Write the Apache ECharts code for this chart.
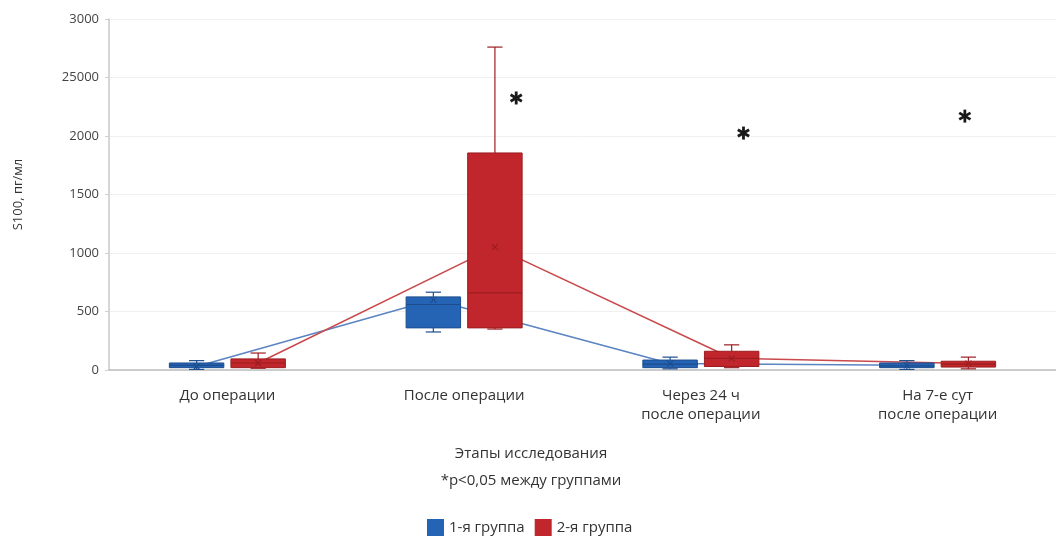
<!DOCTYPE html>
<html>
<head>
<meta charset="utf-8">
<script src="https://cdn.jsdelivr.net/npm/echarts@6/dist/echarts.min.js"></script>
<style>
  html, body { margin: 0; padding: 0; background: #fff; }
  #chart { width: 1056px; height: 538px; }
</style>
</head>
<body>
<div id="chart"></div>
<script>
// этапы исследования
const categories = ['До операции', 'После операции', 'Через 24 ч\nпосле операции', 'На 7-е сут\nпосле операции']
const yTickLabels = ['0', '500', '1000', '1500', '2000', '25000', '3000']

// [min, q1, median, q3, max] по этапам
const group1Box = [
  [5, 20, 40, 60, 80],
  [325, 360, 560, 625, 665],
  [10, 20, 50, 85, 110],
  [5, 20, 35, 60, 80]
]
const group2Box = [
  [15, 20, 60, 95, 145],
  [350, 360, 660, 1855, 2760],
  [20, 30, 100, 160, 215],
  [10, 25, 50, 75, 110]
]
// средние
const group1Mean = [30, 600, 55, 40]
const group2Mean = [60, 1050, 100, 55]

// звёздочки p<0,05: [позиция по оси этапов, значение]
const starPoints = [[1.72, 2325], [2.68, 2025], [3.615, 2170]]

const BLUE = '#2563b4', BLUE_DARK = '#1c4d8e', BLUE_LINE = '#5b84c2'
const RED = '#c0262b', RED_DARK = '#9c1d21', RED_LINE = '#c9494c'
const OFFSET = 0.13   // сдвиг коробки от центра категории (доля полосы)
const BOXW = 0.23     // ширина коробки (доля полосы)

const chart = echarts.init(document.getElementById('chart'))

const boxRenderer = (sign, fill, stroke) => (params, api) => {
  const idx = api.value(0)
  const band = api.size([1, 0])[0]
  const cx = api.coord([idx, 0])[0] + sign * band * OFFSET
  const w = band * BOXW
  const y = (k) => api.coord([idx, api.value(k)])[1]
  const yMin = y(1), yQ1 = y(2), yMed = y(3), yQ3 = y(4), yMax = y(5), yMean = y(6)
  const cap = w * 0.28
  const ls = { stroke: stroke, lineWidth: 1.2 }
  const m = 3
  return {
    type: 'group',
    children: [
      { type: 'line', shape: { x1: cx, y1: yMax, x2: cx, y2: yQ3 }, style: ls },
      { type: 'line', shape: { x1: cx, y1: yQ1, x2: cx, y2: yMin }, style: ls },
      { type: 'line', shape: { x1: cx - cap / 2, y1: yMax, x2: cx + cap / 2, y2: yMax }, style: ls },
      { type: 'line', shape: { x1: cx - cap / 2, y1: yMin, x2: cx + cap / 2, y2: yMin }, style: ls },
      { type: 'rect', shape: { x: cx - w / 2, y: yQ3, width: w, height: Math.max(yQ1 - yQ3, 3) },
        style: { fill: fill, stroke: stroke, lineWidth: 1 } },
      { type: 'line', shape: { x1: cx - w / 2, y1: yMed, x2: cx + w / 2, y2: yMed },
        style: { stroke: stroke, lineWidth: 1.2 } },
      { type: 'line', shape: { x1: cx - m, y1: yMean - m, x2: cx + m, y2: yMean + m },
        style: { stroke: stroke, lineWidth: 1.2 } },
      { type: 'line', shape: { x1: cx - m, y1: yMean + m, x2: cx + m, y2: yMean - m },
        style: { stroke: stroke, lineWidth: 1.2 } }
    ]
  }
}

const starRenderer = (params, api) => {
  const p = api.coord([api.value(0), api.value(1)])
  const r = 6.5
  const kids = []
  for (let a = 0; a < 3; a++) {
    const ang = Math.PI / 2 + a * Math.PI / 3
    const dx = Math.cos(ang) * r, dy = Math.sin(ang) * r
    kids.push({ type: 'line', shape: { x1: p[0] - dx, y1: p[1] - dy, x2: p[0] + dx, y2: p[1] + dy },
      style: { stroke: '#1a1a1a', lineWidth: 2.8 } })
  }
  return { type: 'group', children: kids }
}

const boxData = (boxes, means) => boxes.map((b, i) => [i].concat(b, [means[i]]))
const meanLine = (means, sign) => means.map((v, i) => [i + 0.5 + sign * OFFSET, v])

const option = {
  backgroundColor: '#fff',
  animation: false,
  textStyle: { fontFamily: '"Open Sans", "Noto Sans", sans-serif' },
  title: {
    text: 'Этапы исследования',
    subtext: '*p<0,05 между группами',
    left: 526,
    top: 441,
    textAlign: 'center',
    itemGap: 12,
    textStyle: { fontSize: 15, fontWeight: 'normal', color: '#333' },
    subtextStyle: { fontSize: 15, color: '#333' }
  },
  legend: {
    data: ['1-я группа', '2-я группа'],
    left: 422,
    top: 514,
    icon: 'rect',
    itemWidth: 17,
    itemHeight: 17,
    itemGap: 10,
    textStyle: { fontSize: 15, color: '#333' }
  },
  grid: { left: 109, top: 19, width: 956, height: 351 },
  xAxis: [
    {
      type: 'category',
      data: categories,
      axisLine: { lineStyle: { color: '#bdbdbd', width: 1.5 } },
      axisTick: { show: false },
      axisLabel: { fontSize: 15, color: '#333', margin: 16, lineHeight: 19 },
      splitLine: { show: false }
    },
    {
      type: 'value',
      min: 0,
      max: 4,
      show: false
    }
  ],
  yAxis: {
    type: 'value',
    min: 0,
    max: 3000,
    interval: 500,
    name: 'S100, пг/мл',
    nameLocation: 'middle',
    nameGap: 84,
    nameTextStyle: { fontSize: 13, color: '#333' },
    axisLine: { show: true, lineStyle: { color: '#c8c8c8', width: 1.5 } },
    axisTick: { show: true, length: 4, lineStyle: { color: '#d0d0d0' } },
    axisLabel: {
      fontSize: 13,
      color: '#444',
      margin: 10,
      formatter: (v) => yTickLabels[Math.round(v / 500)]
    },
    splitLine: { lineStyle: { color: '#f0f0f0' } }
  },
  series: [
    {
      name: '1-я группа',
      type: 'custom',
      z: 3,
      itemStyle: { color: BLUE },
      renderItem: boxRenderer(-1, BLUE, BLUE_DARK),
      encode: { x: 0, y: [1, 2, 3, 4, 5] },
      data: boxData(group1Box, group1Mean)
    },
    {
      name: '2-я группа',
      type: 'custom',
      z: 3,
      itemStyle: { color: RED },
      renderItem: boxRenderer(1, RED, RED_DARK),
      encode: { x: 0, y: [1, 2, 3, 4, 5] },
      data: boxData(group2Box, group2Mean)
    },
    {
      name: 'Среднее 1',
      type: 'line',
      xAxisIndex: 1,
      z: 2,
      symbol: 'none',
      lineStyle: { color: BLUE_LINE, width: 1.6 },
      data: meanLine(group1Mean, -1)
    },
    {
      name: 'Среднее 2',
      type: 'line',
      xAxisIndex: 1,
      z: 2,
      symbol: 'none',
      lineStyle: { color: RED_LINE, width: 1.6 },
      data: meanLine(group2Mean, 1)
    },
    {
      name: 'p<0,05',
      type: 'custom',
      xAxisIndex: 1,
      z: 4,
      renderItem: starRenderer,
      data: starPoints
    }
  ]
}

chart.setOption(option)
</script>
</body>
</html>
